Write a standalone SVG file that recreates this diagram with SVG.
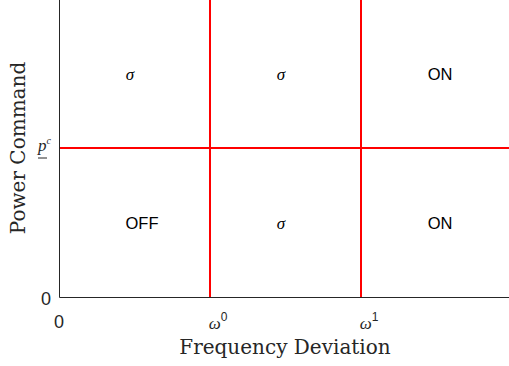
<svg xmlns="http://www.w3.org/2000/svg" width="509" height="366" viewBox="0 0 509 366">
<style>
.ax{stroke:#262626;stroke-width:1;fill:none}
.red{stroke:#ff0000;stroke-width:2;fill:none}
.lbl{font-family:"Liberation Sans",Arial,sans-serif;font-size:16.5px;fill:#000;text-anchor:middle}
.sig{font-family:"Liberation Serif","Times New Roman",serif;font-style:italic;font-size:17px;fill:#000;text-anchor:middle}
.tick{font-family:"Liberation Sans",Arial,sans-serif;font-size:18px;fill:#262626;text-anchor:middle}
.title{font-family:"DejaVu Serif","Liberation Serif",serif;font-size:20px;fill:#262626;text-anchor:middle}
</style>
<rect width="509" height="366" fill="#fff"/>
<g id="axes">
<path class="ax" d="M59.5,0 V297.5 H509"/>
<text class="tick" x="46" y="305">0</text>
<text class="tick" x="59" y="328">0</text>
<text x="218" y="329" font-family="Liberation Serif,serif" font-style="italic" font-size="17" fill="#262626" text-anchor="middle">ω<tspan font-family="Liberation Sans,sans-serif" font-style="normal" font-size="12" dy="-8">0</tspan></text>
<text x="369" y="329" font-family="Liberation Serif,serif" font-style="italic" font-size="17" fill="#262626" text-anchor="middle">ω<tspan font-family="Liberation Sans,sans-serif" font-style="normal" font-size="12" dy="-8">1</tspan></text>
<text x="38" y="151" font-family="Liberation Serif,serif" font-style="italic" font-size="17" fill="#262626">p<tspan font-size="10" dy="-7">c</tspan></text>
<line x1="38" y1="158" x2="47" y2="158" stroke="#262626" stroke-width="1"/>
<text class="title" x="285" y="354">Frequency Deviation</text>
<text class="title" transform="translate(25,148) rotate(-90)">Power Command</text>
</g>
<g id="connectors">
<line class="red" x1="210" y1="0" x2="210" y2="297"/>
<line class="red" x1="361" y1="0" x2="361" y2="297"/>
<line class="red" x1="60" y1="148" x2="509" y2="148"/>
</g>
<g id="r1"><text class="sig" x="130" y="80">σ</text></g>
<g id="r2"><text class="sig" x="281" y="80">σ</text></g>
<g id="r3"><text class="lbl" x="440" y="80">ON</text></g>
<g id="r4"><text class="lbl" x="142" y="229">OFF</text></g>
<g id="r5"><text class="sig" x="281" y="229">σ</text></g>
<g id="r6"><text class="lbl" x="440" y="229">ON</text></g>
</svg>
